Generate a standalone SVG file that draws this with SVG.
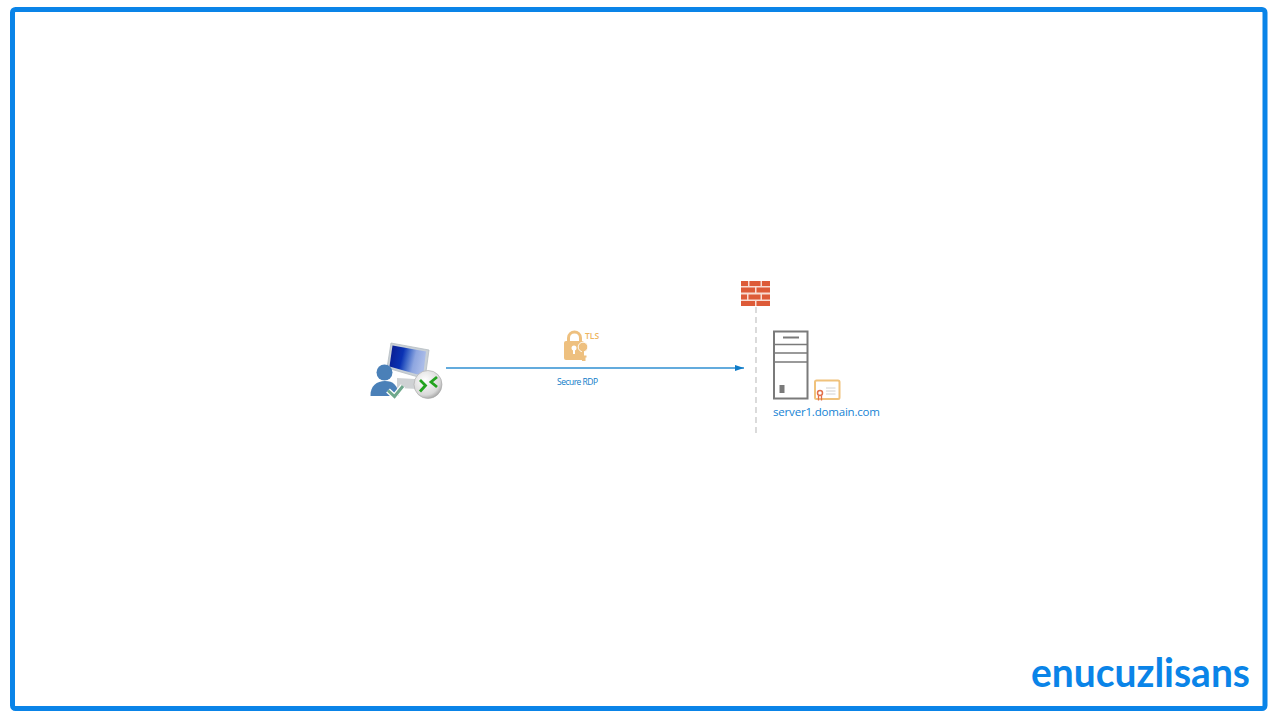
<svg xmlns="http://www.w3.org/2000/svg" width="1280" height="720" viewBox="0 0 1280 720">
<defs>
<style>
.lbl{font-family:"Open Sans","Noto Sans","Liberation Sans",sans-serif;fill:#0f7cc8}
.srv{fill:none;stroke:#7a7a7a}
.brick{fill:#dd5b38}
.cert{fill:none;stroke:#f0c27c}
</style>
<marker id="ah" markerUnits="userSpaceOnUse" markerWidth="10" markerHeight="8" refX="9" refY="3" orient="auto"><path d="M0 0L9 3L0 6Z" fill="#0f7cc8"/></marker>
<linearGradient id="scr" x1="0" y1="0" x2="1" y2="0.2"><stop offset="0" stop-color="#0a1a8c"/><stop offset="0.4" stop-color="#0a32b4"/><stop offset="0.55" stop-color="#3f68c8"/><stop offset="0.75" stop-color="#8ea6e0"/><stop offset="1" stop-color="#a9bbe8"/></linearGradient>
<radialGradient id="disc" cx="0.4" cy="0.35" r="0.75"><stop offset="0" stop-color="#ffffff"/><stop offset="0.7" stop-color="#d8d8d8"/><stop offset="1" stop-color="#8f8f8f"/></radialGradient>
</defs>
<rect width="1280" height="720" fill="#ffffff"/>
<rect id="frame" x="12.5" y="9.500" width="1252.500" height="699" rx="3" fill="none" stroke="#0a84e8" stroke-width="5"/>
<g id="connectors">
<line x1="756" y1="307" x2="756" y2="434" stroke="#d2d2d2" stroke-width="1.600" stroke-dasharray="6 4"/>
<line x1="446" y1="368" x2="744" y2="368" stroke="#2f8fd2" stroke-width="1.400" marker-end="url(#ah)"/>
</g>
<g id="client">
<path d="M391 343L429 350L425 379L387 368Z" fill="#c9d0d6" stroke="#b5bcc2" stroke-width="0.800"/>
<path d="M392.500 345.500L426 351.500L423 376L389.500 366.500Z" fill="url(#scr)"/>
<path d="M397 378L415 379L418 389L397 388Z" fill="#cfd2d4"/>
<circle cx="384.500" cy="372.500" r="8" fill="#4a80b8"/>
<path d="M370.500 396C370 386 377 381 385 381C393 381 398 385 399 396Z" fill="#4a80b8"/>
<path d="M388 390.500L394.500 396.500L403 386" fill="none" stroke="#ffffff" stroke-width="5.500"/>
<path d="M388 390.500L394.500 396.500L403 386" fill="none" stroke="#6fa88c" stroke-width="3"/>
<circle cx="428" cy="384.500" r="14" fill="url(#disc)" stroke="#a8a8a8" stroke-width="0.600"/>
<path d="M420 380L425.500 385.500L420 391.500M437 377L431 382L437 387" fill="none" stroke="#22a31f" stroke-width="2.800"/>
</g>
<g id="tls">
<path d="M568.500 342V338C568.500 330 580.500 330 580.500 338V342" fill="none" stroke="#eec07f" stroke-width="3"/>
<rect x="564" y="341" width="20" height="19" rx="2" fill="#eec07f"/>
<circle cx="574" cy="348" r="2.500" fill="#ffffff"/>
<rect x="573" y="349" width="2" height="5" fill="#ffffff"/>
<circle cx="583" cy="347" r="4.800" fill="#eec07f" stroke="#ffffff" stroke-width="0.900"/>
<path d="M583 351V360H584.500V356.500H586.500" fill="none" stroke="#eec07f" stroke-width="2"/>
<text x="585" y="339" font-family="'Open Sans','Liberation Sans',sans-serif" font-size="8.500" font-weight="600" fill="#eeb55f">TLS</text>
</g>
<text id="rdp-label" class="lbl" x="557" y="385" font-size="8.500" textLength="41">Secure RDP</text>
<g id="firewall">
<rect x="741" y="281" width="29" height="25" fill="#f8dcd2"/>
<path class="brick" d="M741 281h7v5h-7zM749.500 281h11v5h-11zM762 281h8v5h-8zM741 287.500h14v5h-14zM756.500 287.500h13.500v5h-13.500zM741 294.500h6v5h-6zM748.500 294.500h12v5h-12zM762 294.500h8v5h-8zM741 301h14v5h-14zM756.500 301h13.500v5h-13.500z"/>
</g>
<g id="server">
<rect class="srv" x="774" y="331.500" width="33.500" height="67" stroke-width="2"/>
<path class="srv" d="M774 344.500H807.500M774 353H807.500M774 362H807.500" stroke-width="1.600"/>
<path class="srv" d="M783 337.500H799" stroke-width="2"/>
<rect x="779.500" y="385" width="5" height="8" fill="#7a7a7a"/>
<rect class="cert" x="815" y="380.500" width="24.500" height="18.500" rx="1.500" stroke-width="2"/>
<path d="M826 388H835.500M826 391H835.500M826 394H835.500" stroke="#d0d0d0" stroke-width="1"/>
<circle cx="820" cy="393" r="2.500" fill="#ffffff" stroke="#e2704a" stroke-width="1.500"/>
<path d="M818.500 396V400.500M821.500 396V400.500" stroke="#e2704a" stroke-width="1.300"/>
<text class="lbl" x="773" y="416" font-size="11.500" textLength="107" style="fill:#1583d4">server1.domain.com</text>
</g>
<text id="brand" x="1031" y="687" font-family="'Lato','Liberation Sans',sans-serif" font-size="40" font-weight="700" fill="#0a84e8" textLength="219" lengthAdjust="spacingAndGlyphs">enucuzlisans</text>
</svg>
